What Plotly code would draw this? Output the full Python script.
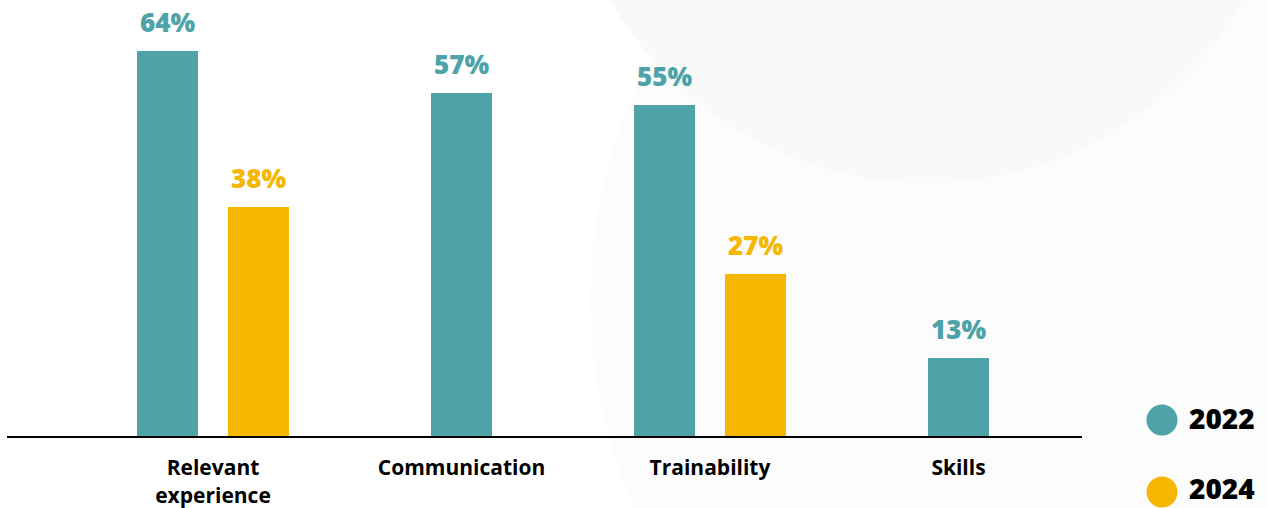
import plotly.graph_objects as go

# Survey results: share of respondents citing each factor
categories = ["Relevant<br>experience", "Communication", "Trainability", "Skills"]
series_names = ["2022", "2024"]
values_2022 = [64, 57, 55, 13]
values_2024 = [38, None, 27, None]

TEAL = "#4DA3A8"
GOLD = "#F5B700"
FONT = "Open Sans"

BAR_W = 0.245   # bar width in category units
GAP = 0.12      # space between paired bars

idx = list(range(len(categories)))
paired = [v is not None for v in values_2024]

# Centre a lone bar on its category; otherwise split the pair around it
x_2022 = [i - (GAP / 2 + BAR_W / 2) if p else i for i, p in zip(idx, paired)]
x_2024 = [i + (GAP / 2 + BAR_W / 2) for i in idx]

fig = go.Figure()
fig.add_trace(go.Bar(x=x_2022, y=values_2022, width=BAR_W, marker_color=TEAL,
                     marker_line_width=0, name=series_names[0], showlegend=False))
fig.add_trace(go.Bar(x=x_2024, y=values_2024, width=BAR_W, marker_color=GOLD,
                     marker_line_width=0, name=series_names[1], showlegend=False))

annotations = []
for xs, vals, col in ((x_2022, values_2022, TEAL), (x_2024, values_2024, GOLD)):
    for x, v in zip(xs, vals):
        if v is None:
            continue
        annotations.append(dict(
            x=x, y=v, xref="x", yref="y", text=f"{v}%", showarrow=False,
            yanchor="bottom", yshift=9,
            font=dict(family=FONT, size=26, color=col, weight=800)))

# Plot-area geometry in pixels, used to place the side legend and discs
W_PLOT, H_PLOT, L_PX = 1075.0, 436.0, 7.0

def px_x(p):
    return (p - L_PX) / W_PLOT

def px_y(p):
    return (H_PLOT - p) / H_PLOT

shapes = [
    # Faint decorative discs in the background
    dict(type="circle", xref="paper", yref="paper",
         x0=px_x(1100 - 510), x1=px_x(1100 + 510),
         y0=px_y(300 + 510), y1=px_y(300 - 510),
         fillcolor="#FCFCFC", line=dict(width=0), layer="below"),
    dict(type="circle", xref="paper", yref="paper",
         x0=px_x(927 - 366), x1=px_x(927 + 366),
         y0=px_y(-183 + 366), y1=px_y(-183 - 366),
         fillcolor="#F9F9F9", line=dict(width=0), layer="below"),
]

# Legend drawn as dots with bold year labels on the right
legend_colours = [TEAL, GOLD]
dot_centres = [420, 492]
text_centres = [418, 488]
for name, col, cy, ty in zip(series_names, legend_colours, dot_centres, text_centres):
    r = 15.5
    shapes.append(dict(type="circle", xref="paper", yref="paper",
                       x0=px_x(1162 - r), x1=px_x(1162 + r),
                       y0=px_y(cy + r), y1=px_y(cy - r),
                       fillcolor=col, line=dict(width=0), layer="above"))
    annotations.append(dict(x=px_x(1187), y=px_y(ty), xref="paper", yref="paper",
                            text=name, showarrow=False, xanchor="left",
                            yanchor="middle",
                            font=dict(family=FONT, size=28, color="#000000",
                                      weight=800)))

fig.update_layout(
    width=1267, height=508,
    margin=dict(l=7, r=185, t=0, b=72, autoexpand=False),
    paper_bgcolor="white", plot_bgcolor="rgba(0,0,0,0)",
    bargap=0, showlegend=False,
    shapes=shapes, annotations=annotations,
    xaxis=dict(range=[-0.829, 3.497], tickvals=idx, ticktext=categories,
               showgrid=False, zeroline=False, showline=True,
               linecolor="#000000", linewidth=2, ticks="",
               automargin=False, ticklabelstandoff=12,
               tickfont=dict(family=FONT, size=21, color="#000000", weight=700),
               fixedrange=True),
    yaxis=dict(range=[0, 72.5], visible=False, fixedrange=True,
               automargin=False),
)

fig.write_html("out.html")
